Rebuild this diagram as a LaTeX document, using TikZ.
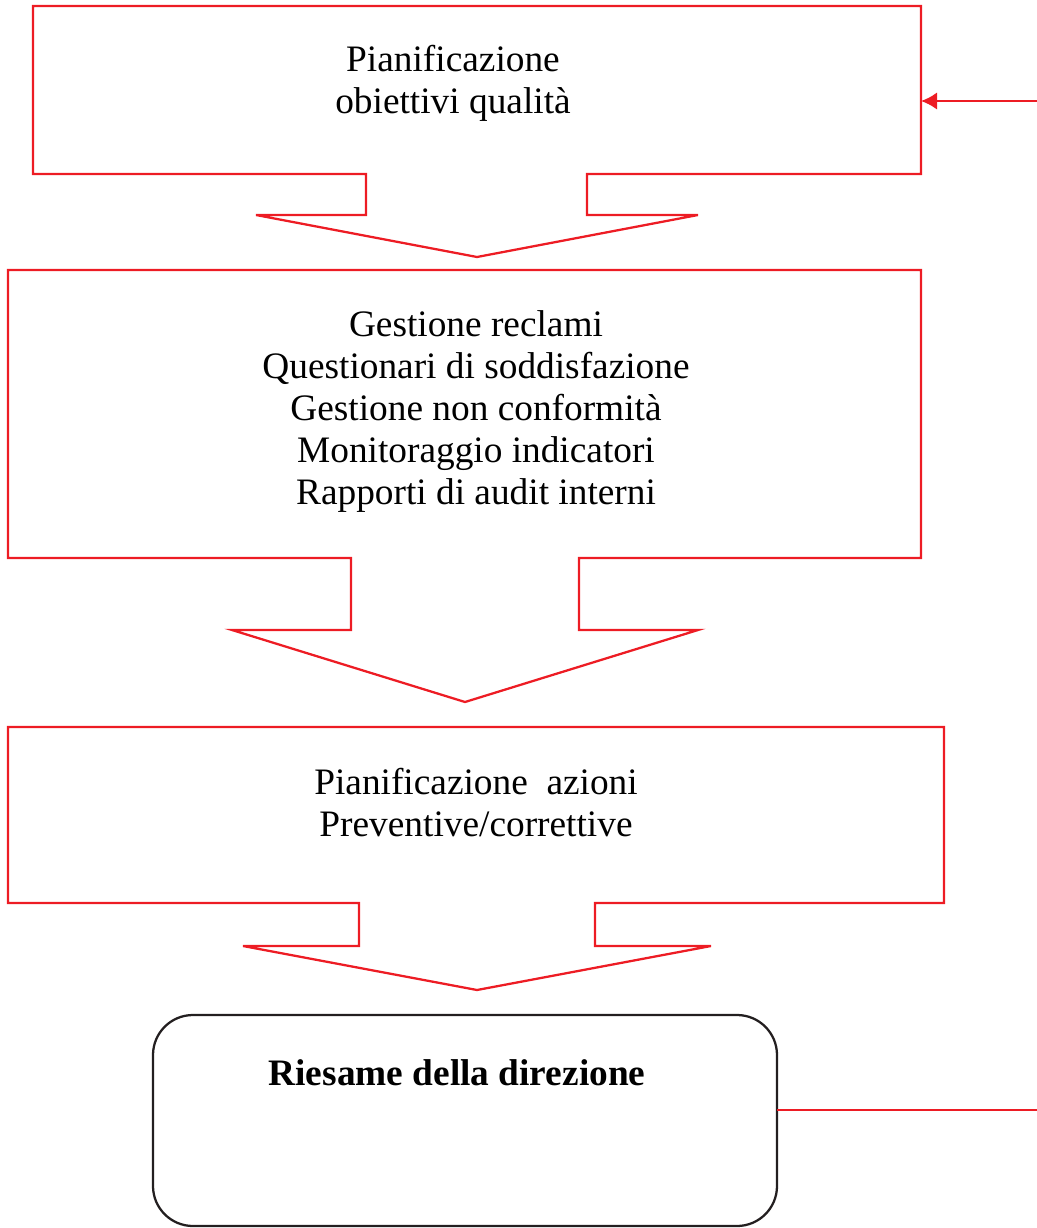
\documentclass[tikz,border=0pt]{standalone}
\usepackage{fontspec}
\setmainfont{Liberation Serif}
\usetikzlibrary{arrows.meta}
\begin{document}
\begin{tikzpicture}[x=0.75pt,y=0.75pt,yscale=-1,xscale=1]
\useasboundingbox (0,0) rectangle (1037,1228);
\tikzset{
  callout/.style={draw={rgb, 255:red, 237; green, 28; blue, 36 },line width=1.7},
  txt/.style={align=center,font=\fontsize{28}{31.5}\selectfont},
}

%Shape: Callout [id:box1]
\draw  [callout]  (33,6) -- (921,6) -- (921,174) -- (587,174) -- (587,215) -- (698,215) -- (477,257) -- (256,215) -- (366,215) -- (366,174) -- (33,174) -- cycle ;
%Shape: Callout [id:box2]
\draw  [callout]  (8,270) -- (921,270) -- (921,558) -- (579,558) -- (579,630) -- (698,630) -- (465,702) -- (232,630) -- (351,630) -- (351,558) -- (8,558) -- cycle ;
%Shape: Callout [id:box3]
\draw  [callout]  (8,727) -- (944,727) -- (944,903) -- (595,903) -- (595,946) -- (711,946) -- (477,990) -- (243,946) -- (359,946) -- (359,903) -- (8,903) -- cycle ;
%Rounded Rect [id:riesame]
\draw  [line width=1.7,color={rgb, 255:red, 35; green, 31; blue, 32 },rounded corners=30]  (153,1015) rectangle (777,1226) ;

\coordinate (box1E) at (921,101);
\coordinate (inR) at (1037,101);
\coordinate (riesameE) at (777,1110);
\coordinate (outR) at (1037,1110);

%Straight Lines [id:feedin]
\draw [callout,-{Latex[length=12,width=13]}]  (inR) -- (box1E) ;
%Straight Lines [id:feedout]
\draw [callout]  (riesameE) -- (outR) ;

% Text Node
\node [txt] (obiettivi) at (453,83) {Pianificazione\\obiettivi qualità};
% Text Node
\node [txt] (raccolta) at (476,412) {Gestione reclami\\Questionari di soddisfazione\\Gestione non conformità\\Monitoraggio indicatori\\Rapporti di audit interni};
% Text Node
\node [txt] (azioni) at (476,803) {Pianificazione\ \ azioni\\Preventive/correttive};
% Text Node
\node [txt] (direzione) at (457,1073) {\bfseries Riesame della direzione};

\end{tikzpicture}
\end{document}
